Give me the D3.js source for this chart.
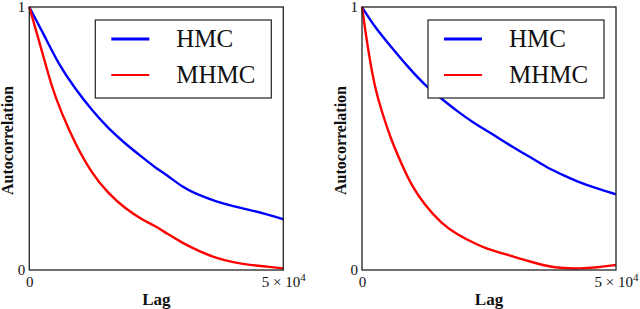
<!DOCTYPE html>
<html>
<head>
<meta charset="utf-8">
<script src="https://cdn.jsdelivr.net/npm/d3@7"></script>
<style>
    body { margin: 0; background: #fff; }
    svg { display: block; }
</style>
</head>
<body>
<svg id="chart"></svg>
<script>
// lag values and autocorrelation
const seriesNames = ['HMC', 'MHMC'];
const seriesColors = ['#0000ff', '#ff0000'];

const hmcLagsA = [0, 3100, 5700, 9000, 12300, 15550, 18850, 22150, 24750, 27050, 30300, 32300, 36900, 40150, 43450, 46750, 50000];
const hmcAcfA = [1, 0.886, 0.785, 0.690, 0.608, 0.538, 0.481, 0.430, 0.390, 0.361, 0.314, 0.294, 0.259, 0.243, 0.228, 0.212, 0.193];
const mhmcLagsA = [0, 2450, 4400, 6400, 9000, 12300, 15550, 18850, 22150, 24750, 27050, 30300, 33600, 36900, 40150, 43450, 46750, 50000];
const mhmcAcfA = [1, 0.836, 0.696, 0.595, 0.481, 0.367, 0.291, 0.234, 0.192, 0.168, 0.139, 0.101, 0.070, 0.044, 0.029, 0.019, 0.013, 0.006];

const hmcLagsB = [0, 2500, 5750, 9050, 12350, 15600, 18900, 22200, 24800, 26500, 29800, 33050, 36350, 39600, 42900, 46200, 50000];
const hmcAcfB = [1, 0.924, 0.848, 0.772, 0.703, 0.652, 0.601, 0.557, 0.527, 0.506, 0.466, 0.430, 0.390, 0.361, 0.332, 0.310, 0.288];
const mhmcLagsB = [0, 1200, 2500, 3800, 5750, 7750, 9700, 12350, 15600, 18900, 22200, 24800, 26500, 29800, 33050, 36350, 39600, 42900, 46200, 50000];
const mhmcAcfB = [1, 0.836, 0.696, 0.608, 0.494, 0.405, 0.323, 0.247, 0.177, 0.133, 0.101, 0.079, 0.070, 0.051, 0.032, 0.015, 0.006, 0.005, 0.010, 0.019];

const xTicks = [0, 50000];
const yTicks = [0, 1];

const width = 640, height = 309;
const serif = "'Liberation Serif', 'DejaVu Serif', serif";
const svg = d3.select('#chart')
    .attr('width', width)
    .attr('height', height)
    .attr('font-family', serif);

const plotW = 254, plotH = 263;
const plotTop = 7;

function zip(lags, acf) {
    return lags.map((l, i) => ({ lag: l, acf: acf[i] }));
}

function drawPanel(left, hmc, mhmc) {
    const g = svg.append('g').attr('transform', `translate(${left},${plotTop})`);

    const x = d3.scaleLinear().domain([0, 50000]).range([0, plotW]);
    const y = d3.scaleLinear().domain([0, 1]).range([plotH, 0]);

    const line = d3.line()
        .x(d => x(d.lag))
        .y(d => y(d.acf))
        .curve(d3.curveBasis);

    [hmc, mhmc].forEach((data, i) => {
        g.append('path')
            .datum(data)
            .attr('fill', 'none')
            .attr('stroke', seriesColors[i])
            .attr('stroke-width', 2.4)
            .attr('stroke-linejoin', 'round')
            .attr('d', line);
    });

    // frame
    g.append('rect')
        .attr('width', plotW)
        .attr('height', plotH)
        .attr('fill', 'none')
        .attr('stroke', '#222')
        .attr('stroke-width', 1.3);

    const xAxis = g.append('g')
        .attr('transform', `translate(0,${plotH})`)
        .call(d3.axisBottom(x).tickValues(xTicks).tickSize(0).tickPadding(6)
            .tickFormat(d => d === 0 ? '0' : ''));
    xAxis.attr('font-family', serif).attr('font-size', 15);
    xAxis.select('.domain').remove();
    xAxis.selectAll('.tick text')
        .attr('fill', '#111')
        .each(function(d) {
            if (d === 0) return;
            const t = d3.select(this);
            t.append('tspan').text('5 × 10');
            t.append('tspan').text('4').attr('font-size', 11).attr('dy', -6);
        });

    const yAxis = g.append('g')
        .call(d3.axisLeft(y).tickValues(yTicks).tickSize(0).tickPadding(4)
            .tickFormat(d3.format('d')));
    yAxis.attr('font-family', serif).attr('font-size', 15);
    yAxis.select('.domain').remove();
    yAxis.selectAll('.tick text').attr('fill', '#111');

    g.append('text')
        .attr('x', plotW / 2)
        .attr('y', plotH + 35)
        .attr('text-anchor', 'middle')
        .attr('font-size', 17)
        .attr('font-weight', 'bold')
        .attr('fill', '#111')
        .text('Lag');

    g.append('text')
        .attr('transform', `translate(-16,${plotH / 2 + 2}) rotate(-90)`)
        .attr('text-anchor', 'middle')
        .attr('font-size', 16)
        .attr('font-weight', 'bold')
        .attr('fill', '#111')
        .text('Autocorrelation');

    // legend
    const lg = g.append('g').attr('transform', `translate(${plotW - 12 - 176},13)`);
    lg.append('rect')
        .attr('width', 176)
        .attr('height', 78)
        .attr('fill', '#fff')
        .attr('stroke', '#222')
        .attr('stroke-width', 1.2);

    seriesNames.forEach((name, i) => {
        const cy = 19 + i * 36;
        lg.append('line')
            .attr('x1', 16).attr('x2', 54)
            .attr('y1', cy).attr('y2', cy)
            .attr('stroke', seriesColors[i])
            .attr('stroke-width', i === 0 ? 3 : 2.2);
        lg.append('text')
            .attr('x', 81)
            .attr('y', cy + 8)
            .attr('font-size', 25)
            .attr('fill', '#111')
            .text(name);
    });
}

drawPanel(29.3, zip(hmcLagsA, hmcAcfA), zip(mhmcLagsA, mhmcAcfA));
drawPanel(362, zip(hmcLagsB, hmcAcfB), zip(mhmcLagsB, mhmcAcfB));
</script>
</body>
</html>
